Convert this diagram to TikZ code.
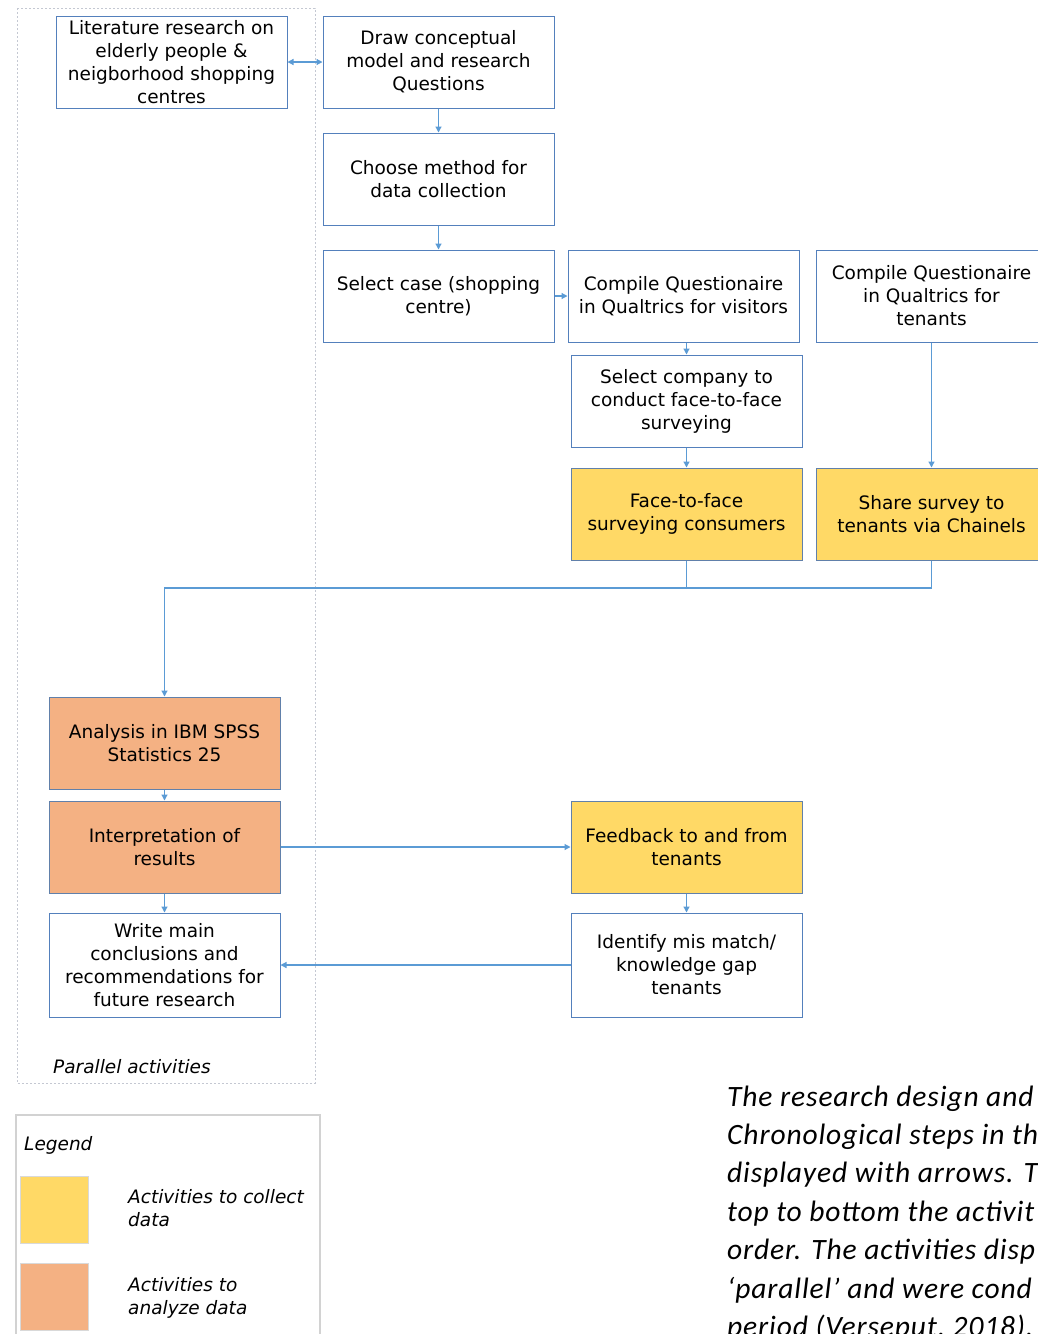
\documentclass[tikz,border=0pt]{standalone}
\usepackage{fontspec}
\setmainfont{DejaVu Sans}
\newfontfamily\capfont[LetterSpace=3]{Carlito}
\usetikzlibrary{arrows.meta}
\definecolor{boxblue}{RGB}{84,128,188}
\definecolor{lineblue}{RGB}{91,155,213}
\definecolor{yellowfill}{RGB}{255,217,102}
\definecolor{orangefill}{RGB}{244,177,131}
\definecolor{dashgray}{RGB}{196,200,210}
\begin{document}
\begin{tikzpicture}[x=1pt,y=-1pt,
  box/.style={draw=boxblue, line width=1pt, minimum width=231, minimum height=92,
    inner sep=0pt, align=center, font=\fontsize{18.5}{23}\selectfont},
  yel/.style={box, fill=yellowfill, draw=boxblue!70!gray},
  ora/.style={box, fill=orangefill, draw=boxblue!70!gray},
  conn/.style={draw=lineblue, line width=1.2pt, -{Triangle[length=6pt,width=6pt]}},
  plain/.style={draw=lineblue, line width=1.2pt},
  itl/.style={font=\fontsize{18.5}{23}\selectfont\itshape, inner sep=0pt, anchor=base west},
  captext/.style={font=\capfont\fontsize{29.5}{38}\selectfont\itshape, inner sep=0pt, anchor=base west}]
\clip (0,0) rectangle (1038,1334);
\fill[white] (0,0) rectangle (1038,1334);
% parallel container
\draw[dashgray, line width=1pt, dash pattern=on 2pt off 2pt] (17,8) rectangle (315,1083);
\node[itl] (par) at (53,1073) {Parallel activities};
% boxes
\node[box] (lit) at (171.5,62) {Literature research on\\elderly people \&\\neigborhood shopping\\centres};
\node[box] (draw) at (438.5,62) {Draw conceptual\\model and research\\Questions};
\node[box] (choose) at (438.5,179) {Choose method for\\data collection};
\node[box] (case) at (438.5,296) {Select case (shopping\\centre)};
\node[box] (compv) at (683.5,296) {Compile Questionaire\\in Qualtrics for visitors};
\node[box] (compt) at (931.5,296) {Compile Questionaire\\in Qualtrics for\\tenants};
\node[box] (comp) at (686.5,401) {Select company to\\conduct face-to-face\\surveying};
\node[yel] (face) at (686.5,514) {Face-to-face\\surveying consumers};
\node[yel] (share) at (931.5,514) {Share survey to\\tenants via Chainels};
\node[ora] (spss) at (164.5,743) {Analysis in IBM SPSS\\Statistics 25};
\node[ora] (interp) at (164.5,847) {Interpretation of\\results};
\node[box, minimum height=104] (write) at (164.5,965) {Write main\\conclusions and\\recommendations for\\future research};
\node[yel] (feed) at (686.5,847) {Feedback to and from\\tenants};
\node[box, minimum height=104] (ident) at (686.5,965) {Identify mis match/\\knowledge gap\\tenants};
% connectors
\draw[conn, {Triangle[length=6pt,width=6pt]}-{Triangle[length=6pt,width=6pt]}] (lit.east) -- (draw.west);
\draw[conn] (draw) -- (choose);
\draw[conn] (choose) -- (case);
\draw[conn] (case) -- (compv);
\draw[conn] (compv.south -| comp.north) -- (comp.north);
\draw[conn] (comp) -- (face);
\draw[conn] (compt) -- (share);
\coordinate (join) at (686.5,588);
\draw[plain] (share.south) |- (join);
\draw[conn] (face.south) -- (join) -| (spss.north);
\draw[conn] (spss) -- (interp);
\draw[conn] (interp) -- (write);
\draw[conn] (interp) -- (feed);
\draw[conn] (feed) -- (ident);
\draw[conn] (ident.west) -- (write.east);
% legend
\draw[gray!35, line width=1.2pt] (16,1115) rectangle (320,1345);
\node[itl] (leg) at (24,1150) {Legend};
\node[draw=gray!30, fill=yellowfill, minimum width=68, minimum height=67, inner sep=0pt] (ly) at (54,1209.5) {};
\node[draw=gray!30, fill=orangefill, minimum width=68, minimum height=67, inner sep=0pt] (lo) at (54,1296.5) {};
\node[itl] (ly1) at (128,1203) {Activities to collect};
\node[itl] (ly2) at (128,1226) {data};
\node[itl] (lo1) at (128,1291) {Activities to};
\node[itl] (lo2) at (128,1314) {analyze data};
% caption
\foreach \t [count=\i] in {The research design and, Chronological steps in th, displayed with arrows. T, top to bottom the activit, order. The activities disp, {‘parallel’ and were cond}, {period (Verseput, 2018).}}
  \node[captext] (cap\i) at (727,{1106+38.4*(\i-1)}) {\t};
\end{tikzpicture}
\end{document}
